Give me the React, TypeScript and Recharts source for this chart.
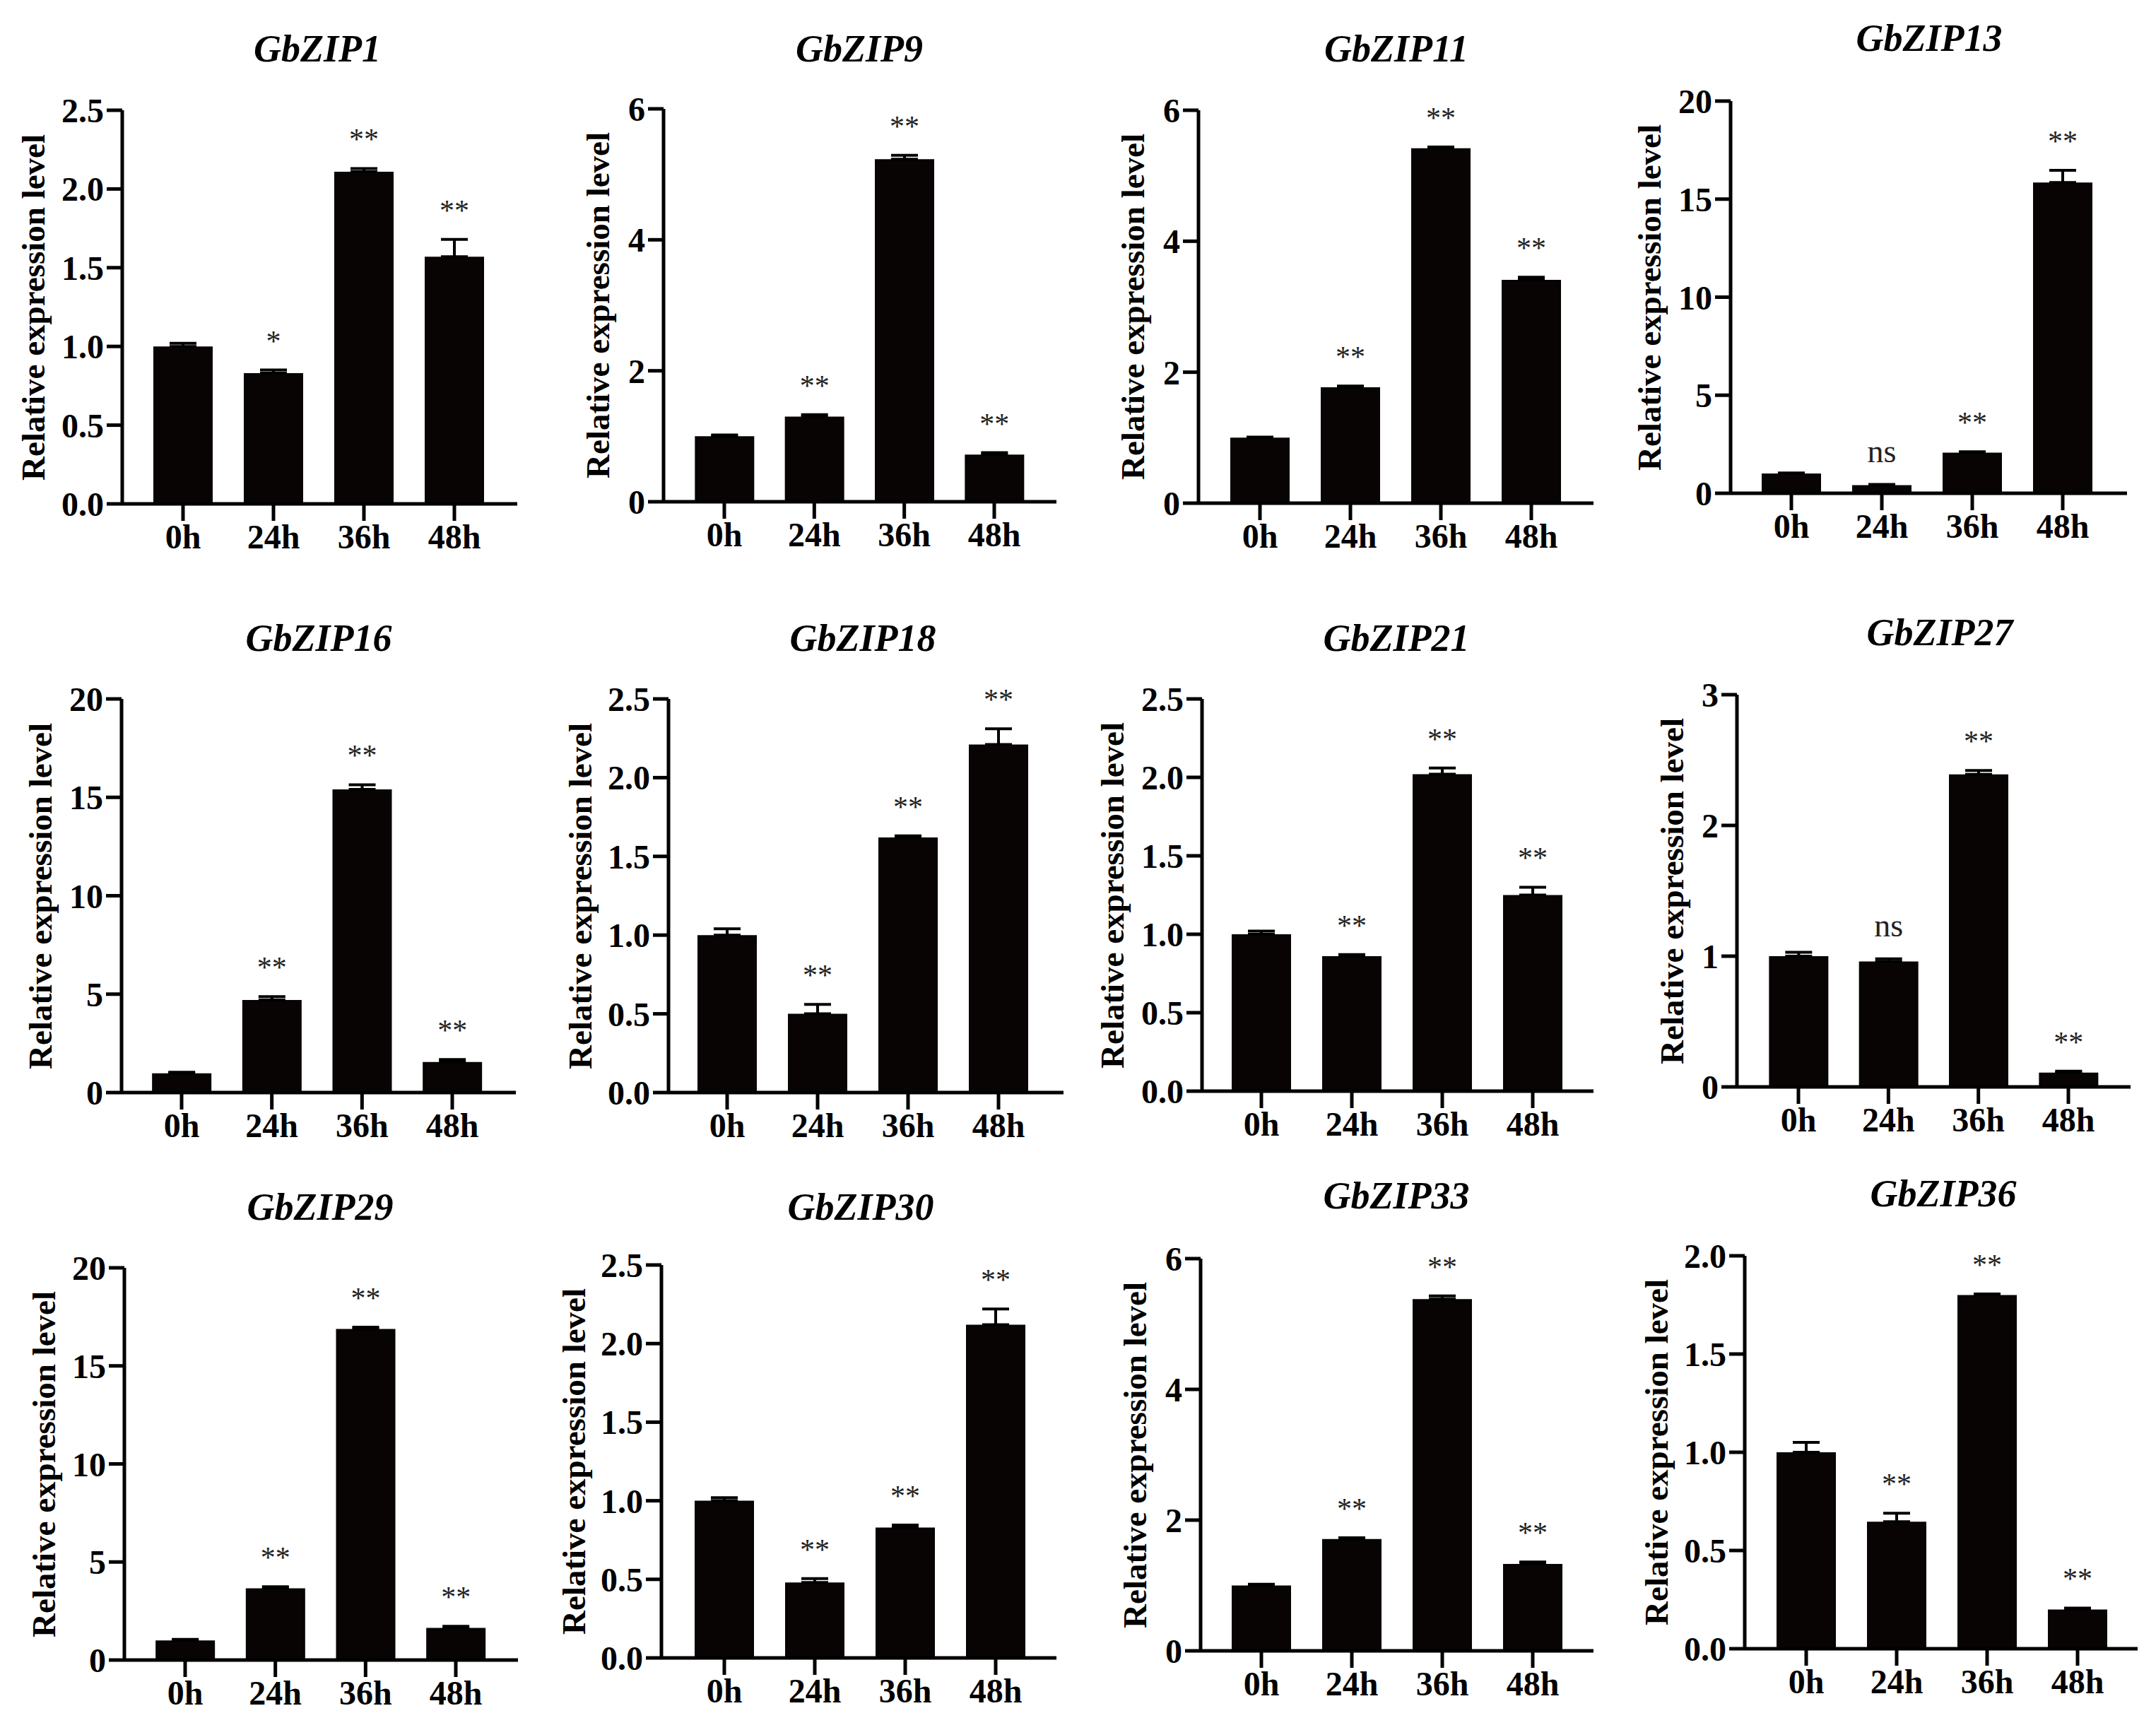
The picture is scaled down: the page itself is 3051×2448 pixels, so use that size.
import React from 'react';
import { BarChart, Bar, XAxis, YAxis, ErrorBar, LabelList } from 'recharts';

// ---------- data ----------
const times = ['0h', '24h', '36h', '48h'];

const gbzip1Mean = [1.0, 0.83, 2.11, 1.57];
const gbzip1Err = [0.02, 0.02, 0.02, 0.11];
const gbzip1Sig = ['', '*', '**', '**'];
const gbzip1Ticks = [0, 0.5, 1.0, 1.5, 2.0, 2.5];

const gbzip9Mean = [1.0, 1.3, 5.23, 0.72];
const gbzip9Err = [0.02, 0.03, 0.06, 0.03];
const gbzip9Sig = ['', '**', '**', '**'];
const gbzip9Ticks = [0, 2, 4, 6];

const gbzip11Mean = [1.0, 1.77, 5.42, 3.41];
const gbzip11Err = [0.01, 0.02, 0.02, 0.04];
const gbzip11Sig = ['', '**', '**', '**'];
const gbzip11Ticks = [0, 2, 4, 6];

const gbzip13Mean = [1.01, 0.41, 2.07, 15.85];
const gbzip13Err = [0.03, 0.04, 0.05, 0.62];
const gbzip13Sig = ['', 'ns', '**', '**'];
const gbzip13Ticks = [0, 5, 10, 15, 20];

const gbzip16Mean = [0.98, 4.7, 15.4, 1.55];
const gbzip16Err = [0.05, 0.17, 0.24, 0.13];
const gbzip16Sig = ['', '**', '**', '**'];
const gbzip16Ticks = [0, 5, 10, 15, 20];

const gbzip18Mean = [1.0, 0.5, 1.62, 2.21];
const gbzip18Err = [0.04, 0.06, 0.01, 0.1];
const gbzip18Sig = ['', '**', '**', '**'];
const gbzip18Ticks = [0, 0.5, 1.0, 1.5, 2.0, 2.5];

const gbzip21Mean = [1.0, 0.86, 2.02, 1.25];
const gbzip21Err = [0.02, 0.01, 0.04, 0.05];
const gbzip21Sig = ['', '**', '**', '**'];
const gbzip21Ticks = [0, 0.5, 1.0, 1.5, 2.0, 2.5];

const gbzip27Mean = [1.0, 0.96, 2.39, 0.11];
const gbzip27Err = [0.03, 0.02, 0.03, 0.01];
const gbzip27Sig = ['', 'ns', '**', '**'];
const gbzip27Ticks = [0, 1, 2, 3];

const gbzip29Mean = [1.0, 3.66, 16.88, 1.64];
const gbzip29Err = [0.05, 0.08, 0.09, 0.08];
const gbzip29Sig = ['', '**', '**', '**'];
const gbzip29Ticks = [0, 5, 10, 15, 20];

const gbzip30Mean = [1.0, 0.48, 0.83, 2.12];
const gbzip30Err = [0.02, 0.025, 0.015, 0.1];
const gbzip30Sig = ['', '**', '**', '**'];
const gbzip30Ticks = [0, 0.5, 1.0, 1.5, 2.0, 2.5];

const gbzip33Mean = [1.0, 1.71, 5.38, 1.33];
const gbzip33Err = [0.02, 0.02, 0.05, 0.03];
const gbzip33Sig = ['', '**', '**', '**'];
const gbzip33Ticks = [0, 2, 4, 6];

const gbzip36Mean = [1.0, 0.647, 1.8, 0.2];
const gbzip36Err = [0.05, 0.043, 0.006, 0.007];
const gbzip36Sig = ['', '**', '**', '**'];
const gbzip36Ticks = [0, 0.5, 1.0, 1.5, 2.0];

const geneNames = [
  'GbZIP1', 'GbZIP9', 'GbZIP11', 'GbZIP13',
  'GbZIP16', 'GbZIP18', 'GbZIP21', 'GbZIP27',
  'GbZIP29', 'GbZIP30', 'GbZIP33', 'GbZIP36',
];
const means = [gbzip1Mean, gbzip9Mean, gbzip11Mean, gbzip13Mean, gbzip16Mean, gbzip18Mean, gbzip21Mean, gbzip27Mean, gbzip29Mean, gbzip30Mean, gbzip33Mean, gbzip36Mean];
const errs = [gbzip1Err, gbzip9Err, gbzip11Err, gbzip13Err, gbzip16Err, gbzip18Err, gbzip21Err, gbzip27Err, gbzip29Err, gbzip30Err, gbzip33Err, gbzip36Err];
const sigs = [gbzip1Sig, gbzip9Sig, gbzip11Sig, gbzip13Sig, gbzip16Sig, gbzip18Sig, gbzip21Sig, gbzip27Sig, gbzip29Sig, gbzip30Sig, gbzip33Sig, gbzip36Sig];
const tickSets = [gbzip1Ticks, gbzip9Ticks, gbzip11Ticks, gbzip13Ticks, gbzip16Ticks, gbzip18Ticks, gbzip21Ticks, gbzip27Ticks, gbzip29Ticks, gbzip30Ticks, gbzip33Ticks, gbzip36Ticks];

// ---------- layout (pixel geometry of each panel) ----------
// x0: y-axis x, x1: x-axis end, yTop: top tick, yZero: baseline,
// c0/c3: first/last category centres, tx/ty: title centre, ldx: y-label offset
const layout = [
  { x0: 173, x1: 732, yTop: 156, yZero: 713, c0: 259, c3: 643, tx: 449, ty: 69, ldx: 126 },
  { x0: 939, x1: 1495, yTop: 154, yZero: 710, c0: 1025, c3: 1407, tx: 1216, ty: 69, ldx: 93 },
  { x0: 1696, x1: 2255, yTop: 156, yZero: 712, c0: 1783, c3: 2167, tx: 1976, ty: 69, ldx: 93 },
  { x0: 2449, x1: 3010, yTop: 143, yZero: 698, c0: 2535, c3: 2919, tx: 2730, ty: 54, ldx: 115 },
  { x0: 172, x1: 730, yTop: 989, yZero: 1546, c0: 257, c3: 640, tx: 451, ty: 903, ldx: 115 },
  { x0: 946, x1: 1505, yTop: 989, yZero: 1546, c0: 1029, c3: 1413, tx: 1221, ty: 903, ldx: 125 },
  { x0: 1701, x1: 2255, yTop: 989, yZero: 1544, c0: 1785, c3: 2169, tx: 1976, ty: 903, ldx: 127 },
  { x0: 2458, x1: 3015, yTop: 983, yZero: 1538, c0: 2545, c3: 2927, tx: 2745, ty: 895, ldx: 92 },
  { x0: 176, x1: 733, yTop: 1794, yZero: 2349, c0: 262, c3: 645, tx: 453, ty: 1708, ldx: 114 },
  { x0: 936, x1: 1495, yTop: 1790, yZero: 2346, c0: 1025, c3: 1409, tx: 1218, ty: 1708, ldx: 124 },
  { x0: 1699, x1: 2255, yTop: 1781, yZero: 2336, c0: 1785, c3: 2169, tx: 1976, ty: 1692, ldx: 93 },
  { x0: 2469, x1: 3025, yTop: 1777, yZero: 2333, c0: 2556, c3: 2940, tx: 2750, ty: 1689, ldx: 125 },
];

const FONT = '"Liberation Serif", "Times New Roman", serif';
const YAXIS_W = 200;
const TOP = 30;
const XAXIS_H = 110;
const RIGHT = 10;
const BAR_COLOR = '#080404';
const TICK_FONT = 48;

function Panel({ idx }: { idx: number }) {
  const g = layout[idx];
  const mean = means[idx];
  const err = errs[idx];
  const sig = sigs[idx];
  const ticks = tickSets[idx];
  const data = times.map((t, i) => ({ time: t, mean: mean[i], errRange: [0, err[i]], sig: sig[i] }));
  const plotW = g.x1 - g.x0;
  const plotH = g.yZero - g.yTop;
  const band = (g.c3 - g.c0) / 3;
  const padL = g.c0 - g.x0 - band / 2;
  const padR = g.x1 - g.c3 - band / 2;
  const decimals = ticks.some((t) => !Number.isInteger(t)) ? 1 : 0;
  const W = YAXIS_W + plotW + RIGHT;
  const H = TOP + plotH + XAXIS_H;

  const renderSig = (props: any) => {
    const vb = props.viewBox || {};
    const x = props.x ?? vb.x;
    const y = props.y ?? vb.y;
    const width = props.width ?? vb.width;
    const height = props.height ?? vb.height;
    const index = props.index;
    const value = props.value;
    if (!value || index == null) return null;
    const pxPerUnit = height / mean[index];
    const errTop = y - err[index] * pxPerUnit;
    const isNs = value === 'ns';
    return (
      <text
        x={x + width / 2}
        y={errTop - (isNs ? 32 : 27)}
        textAnchor="middle"
        fontFamily={FONT}
        fontSize={isNs ? 46 : 42}
        fill="#222"
      >
        {value}
      </text>
    );
  };

  return (
    <>
      <div style={{ position: 'absolute', left: g.x0 - YAXIS_W, top: g.yTop - TOP }}>
        <BarChart width={W} height={H} data={data} margin={{ top: TOP, right: RIGHT, bottom: 0, left: 0 }}>
          <XAxis
            dataKey="time"
            height={XAXIS_H}
            padding={{ left: padL, right: padR }}
            axisLine={{ stroke: '#000', strokeWidth: 5 }}
            tickLine={{ stroke: '#000', strokeWidth: 5 }}
            tickSize={24}
            tickMargin={5}
            interval={0}
            tick={{ fill: '#000', fontSize: TICK_FONT, fontWeight: 'bold', fontFamily: FONT }}
          />
          <YAxis
            width={YAXIS_W}
            domain={[0, ticks[ticks.length - 1]]}
            allowDataOverflow
            ticks={ticks}
            interval={0}
            tickFormatter={(v: number) => v.toFixed(decimals)}
            axisLine={{ stroke: '#000', strokeWidth: 5 }}
            tickLine={{ stroke: '#000', strokeWidth: 5 }}
            tickSize={22}
            tickMargin={4}
            tick={{ fill: '#000', fontSize: TICK_FONT, fontWeight: 'bold', fontFamily: FONT }}
          />
          <Bar dataKey="mean" fill={BAR_COLOR} barSize={84} isAnimationActive={false}>
            <ErrorBar dataKey="errRange" direction="y" width={19} strokeWidth={4} stroke="#000" isAnimationActive={false} />
            <LabelList dataKey="sig" content={renderSig} />
          </Bar>
        </BarChart>
      </div>
      <div
        style={{
          position: 'absolute',
          left: g.tx,
          top: g.ty,
          transform: 'translate(-50%, -50%)',
          fontFamily: FONT,
          fontSize: 54,
          fontWeight: 'bold',
          fontStyle: 'italic',
          whiteSpace: 'nowrap',
          lineHeight: 1,
          color: '#000',
        }}
      >
        {geneNames[idx]}
      </div>
      <div
        style={{
          position: 'absolute',
          left: g.x0 - g.ldx,
          top: (g.yTop + g.yZero) / 2,
          transform: 'translate(-50%, -50%) rotate(-90deg)',
          fontFamily: FONT,
          fontSize: 47,
          fontWeight: 'bold',
          whiteSpace: 'nowrap',
          lineHeight: 1,
          color: '#000',
        }}
      >
        Relative expression level
      </div>
    </>
  );
}

export default function App() {
  return (
    <div
      style={{
        position: 'absolute',
        left: 0,
        top: 0,
        width: 3051,
        height: 2448,
        background: '#fff',
        overflow: 'hidden',
      }}
    >
      {geneNames.map((_, i) => (
        <Panel key={i} idx={i} />
      ))}
    </div>
  );
}
